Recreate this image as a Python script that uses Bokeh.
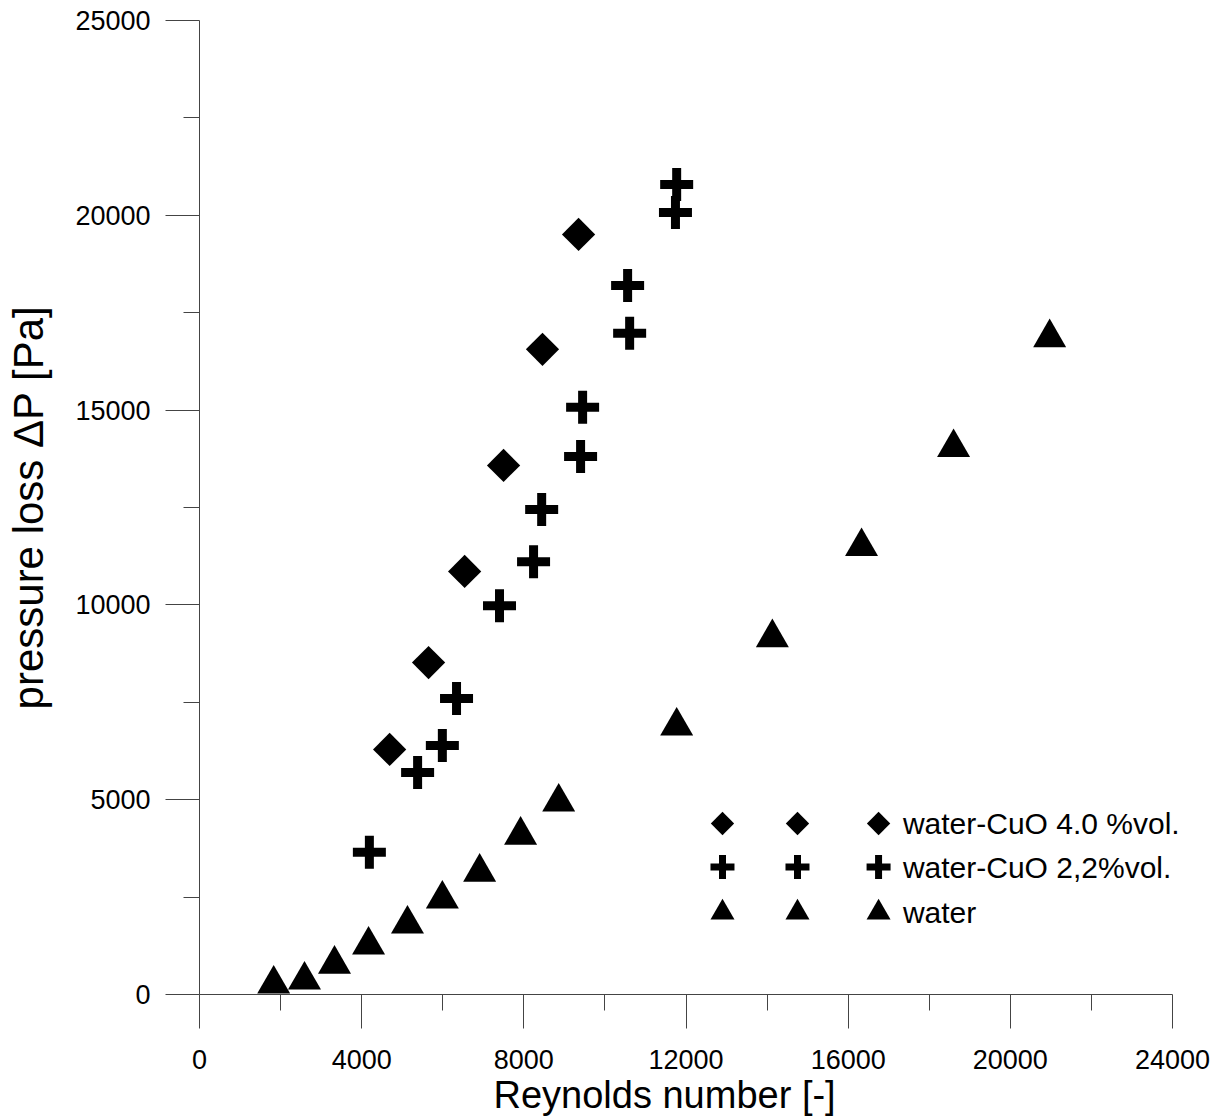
import math
from bokeh.plotting import figure
from bokeh.models import Range1d, FixedTicker, Title, Label
from bokeh.embed import file_html
from bokeh.resources import INLINE

# ---- data ----
re_cuo40 = [4690, 5650, 6540, 7500, 8460, 9350]
dp_cuo40 = [6290, 8520, 10860, 13580, 16560, 19510]

re_cuo22 = [4190, 5380, 5990, 6340, 7400, 8240, 8440, 9400, 9450, 10610, 10560, 11740, 11770]
dp_cuo22 = [3650, 5700, 6390, 7600, 9980, 11110, 12450, 13810, 15070, 16970, 18200, 20070, 20790]

re_water = [1830, 2590, 3330, 4170, 5130, 5990, 6910, 7920, 8860, 11770, 14130, 16330, 18600, 20970]
dp_water = [270, 370, 780, 1270, 1810, 2450, 3140, 4090, 4940, 6890, 9160, 11500, 14040, 16860]

series_labels = ["water-CuO 4.0 %vol.", "water-CuO 2,2%vol.", "water"]

x_major = [0, 4000, 8000, 12000, 16000, 20000, 24000]
x_minor = [2000, 6000, 10000, 14000, 18000, 22000]
y_major = [0, 5000, 10000, 15000, 20000, 25000]
y_minor = [2500, 7500, 12500, 17500, 22500]

x_title = "Reynolds number [-]"
y_title = "pressure loss \u0394P [Pa]"

# ---- layout constants ----
AXIS_PX = 973            # pixel length of the drawn x axis (0..24000)
FRAME_W = 1022           # frame is wider so the legend text is not clipped
X_AXIS_END = 24000
X_RANGE_END = X_AXIS_END * FRAME_W / AXIS_PX
LEG_MARK_X = [12900, 14750, 16750]
LEG_TEXT_X = 17350
LEG_ROW_Y = [4390, 3270, 2100]

FONT = "Liberation Sans"

p = figure(frame_width=FRAME_W, frame_height=974,
           x_range=Range1d(0, X_RANGE_END), y_range=Range1d(0, 25000),
           output_backend="svg", toolbar_location=None,
           min_border_left=199, min_border_right=0,
           min_border_top=20, min_border_bottom=123)

p.outline_line_color = None
p.xgrid.visible = False
p.ygrid.visible = False
p.background_fill_color = "white"
p.border_fill_color = "white"

for ax in (p.xaxis[0], p.yaxis[0]):
    ax.axis_line_color = "#444444"
    ax.axis_line_width = 1
    ax.major_tick_line_color = "#444444"
    ax.minor_tick_line_color = "#444444"
    ax.major_tick_in = 0
    ax.minor_tick_in = 0
    ax.major_tick_out = 34
    ax.minor_tick_out = 16
    ax.major_label_text_font = FONT
    ax.major_label_text_font_size = "27px"
    ax.major_label_text_color = "black"
    ax.axis_label_text_font = FONT
    ax.axis_label_text_font_style = "normal"
    ax.axis_label_text_color = "black"

p.xaxis[0].bounds = (0, X_AXIS_END)
p.xaxis[0].ticker = FixedTicker(ticks=x_major, minor_ticks=x_minor)
p.yaxis[0].ticker = FixedTicker(ticks=y_major, minor_ticks=y_minor)
p.yaxis[0].axis_label = y_title
p.yaxis[0].axis_label_text_font_size = "42px"
p.xaxis[0].major_label_standoff = 21
p.yaxis[0].major_label_standoff = 15
p.yaxis[0].axis_label_standoff = 20

# x-axis title, placed slightly left of centre as in the reference
p.add_layout(Title(text=x_title, align="left", offset=294, standoff=0,
                   text_font=FONT, text_font_size="38px", text_font_style="normal",
                   text_color="black"), "below")

# ---- data markers ----
p.scatter(re_cuo40, dp_cuo40, marker="square", angle=math.pi / 4, size=23.5,
          fill_color="black", line_color=None)
p.scatter(re_cuo22, dp_cuo22, marker="cross", size=33, line_color="black", line_width=9)
p.scatter(re_water, dp_water, marker="triangle", size=33, fill_color="black", line_color=None)

# ---- legend (three symbols per row, Grapher style) ----
for i, lbl in enumerate(series_labels):
    ys = [LEG_ROW_Y[i]] * len(LEG_MARK_X)
    if i == 0:
        p.scatter(LEG_MARK_X, ys, marker="square", angle=math.pi / 4, size=16.5,
                  fill_color="black", line_color=None)
    elif i == 1:
        p.scatter(LEG_MARK_X, ys, marker="cross", size=24, line_color="black", line_width=7)
    else:
        p.scatter(LEG_MARK_X, ys, marker="triangle", size=24, fill_color="black", line_color=None)
    p.add_layout(Label(x=LEG_TEXT_X, y=LEG_ROW_Y[i], text=lbl,
                       text_font=FONT, text_font_size="30px", text_color="black",
                       text_baseline="middle", text_align="left"))

open("out.html", "w").write(file_html(p, INLINE))
